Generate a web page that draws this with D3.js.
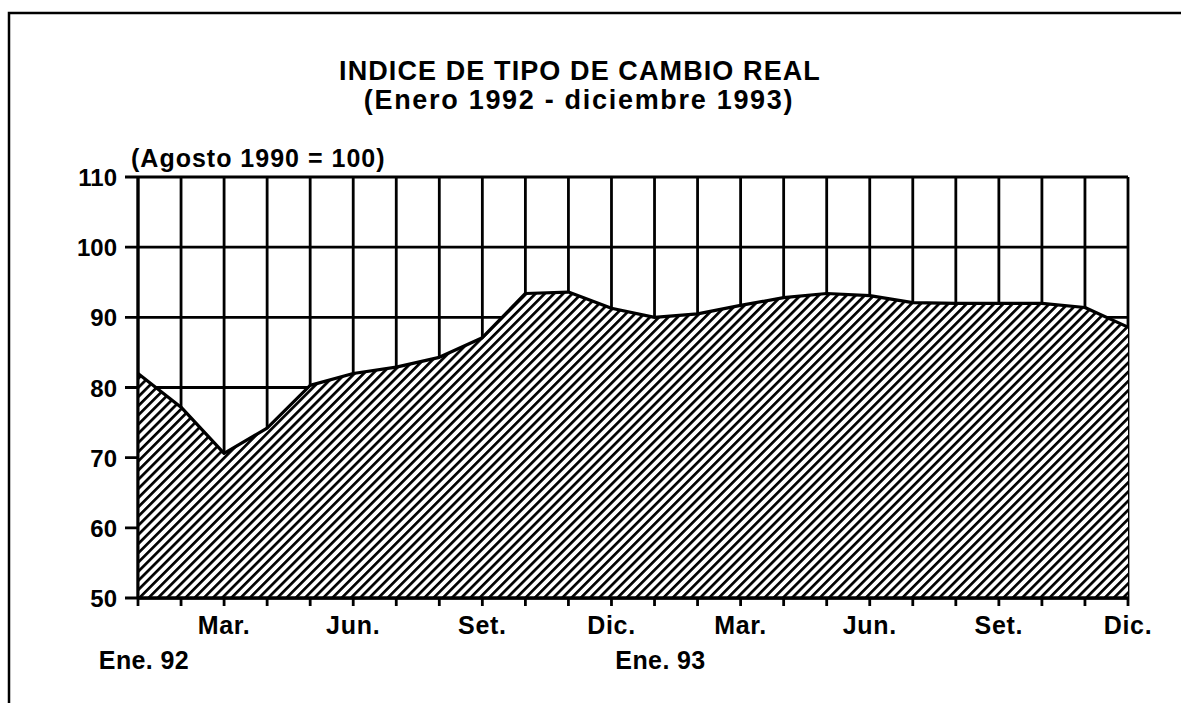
<!DOCTYPE html>
<html>
<head>
<meta charset="utf-8">
<script src="https://cdn.jsdelivr.net/npm/d3@7/dist/d3.min.js"></script>
<style>
  body { margin: 0; background: #fff; }
  svg { display: block; font-family: "Liberation Sans", Arial, Helvetica, sans-serif; font-weight: bold; }
</style>
</head>
<body>
<svg id="chart" width="1181" height="703"></svg>
<script>
// índice mensual, enero 1992 - diciembre 1993 (agosto 1990 = 100)
var months = d3.range(24);
var values = [82.0, 77.2, 70.6, 74.2, 80.3, 82.0, 82.9, 84.3, 87.1, 93.4, 93.6, 91.3,
              90.0, 90.5, 91.7, 92.8, 93.4, 93.1, 92.1, 92.0, 92.0, 92.0, 91.4, 88.6];
var monthLabels = {2: 'Mar.', 5: 'Jun.', 8: 'Set.', 11: 'Dic.', 14: 'Mar.', 17: 'Jun.', 20: 'Set.', 23: 'Dic.'};
var yearLabels = {0: 'Ene. 92', 12: 'Ene. 93'};
var yTicks = [50, 60, 70, 80, 90, 100, 110];

var svg = d3.select('#chart');

var x = d3.scaleLinear().domain([0, 23]).range([138, 1128]);
var y = d3.scaleLinear().domain([50, 110]).range([598, 177]);

// marco
svg.append('path')
    .attr('d', 'M9,703 V13 H1181')
    .attr('fill', 'none')
    .attr('stroke', '#000')
    .attr('stroke-width', 2.5);

// rayado
var defs = svg.append('defs');
var pat = defs.append('pattern')
    .attr('id', 'hatch')
    .attr('patternUnits', 'userSpaceOnUse')
    .attr('width', 6.5)
    .attr('height', 6.5)
    .attr('patternTransform', 'rotate(45)');
pat.append('rect').attr('width', 6.5).attr('height', 6.5).attr('fill', '#fff');
pat.append('line')
    .attr('x1', 0).attr('y1', 0).attr('x2', 0).attr('y2', 6.5)
    .attr('stroke', '#000').attr('stroke-width', 5.4);

// cuadrícula
svg.append('g').selectAll('line')
    .data(months)
    .enter().append('line')
        .attr('x1', function(d) { return x(d); })
        .attr('x2', function(d) { return x(d); })
        .attr('y1', y(110))
        .attr('y2', y(50))
        .attr('stroke', '#000')
        .attr('stroke-width', 2.8);

svg.append('g').selectAll('line')
    .data(yTicks)
    .enter().append('line')
        .attr('x1', 125)
        .attr('x2', x(23))
        .attr('y1', function(d) { return y(d); })
        .attr('y2', function(d) { return y(d); })
        .attr('stroke', '#000')
        .attr('stroke-width', 2.8);

// área
var area = d3.area()
    .x(function(d, i) { return x(i); })
    .y0(y(50))
    .y1(function(d) { return y(d); });

var line = d3.line()
    .x(function(d, i) { return x(i); })
    .y(function(d) { return y(d); });

svg.append('path')
    .datum(values)
    .attr('d', area)
    .attr('fill', 'url(#hatch)');

svg.append('path')
    .datum(values)
    .attr('d', line)
    .attr('fill', 'none')
    .attr('stroke', '#000')
    .attr('stroke-width', 3.2)
    .attr('stroke-linejoin', 'round');

// ejes
svg.append('line')
    .attr('x1', x(0)).attr('x2', x(23))
    .attr('y1', y(50)).attr('y2', y(50))
    .attr('stroke', '#000').attr('stroke-width', 3.5);
svg.append('line')
    .attr('x1', x(0)).attr('x2', x(0))
    .attr('y1', y(110)).attr('y2', y(50))
    .attr('stroke', '#000').attr('stroke-width', 3);

svg.append('g').selectAll('line')
    .data(months)
    .enter().append('line')
        .attr('x1', function(d) { return x(d); })
        .attr('x2', function(d) { return x(d); })
        .attr('y1', y(50))
        .attr('y2', y(50) + 8)
        .attr('stroke', '#000')
        .attr('stroke-width', 2.8);

svg.append('g').selectAll('text')
    .data(Object.keys(monthLabels))
    .enter().append('text')
        .attr('x', function(d) { return x(+d); })
        .attr('y', 634)
        .attr('text-anchor', 'middle')
        .attr('font-size', 25)
        .attr('letter-spacing', 0.7)
        .text(function(d) { return monthLabels[d]; });

svg.append('g').selectAll('text')
    .data(Object.keys(yearLabels))
    .enter().append('text')
        .attr('x', function(d) { return x(+d) + 6; })
        .attr('y', 669)
        .attr('text-anchor', 'middle')
        .attr('font-size', 25)
        .attr('letter-spacing', 0.4)
        .text(function(d) { return yearLabels[d]; });

svg.append('g').selectAll('text')
    .data(yTicks)
    .enter().append('text')
        .attr('x', 117)
        .attr('y', function(d) { return y(d) + 9; })
        .attr('text-anchor', 'end')
        .attr('font-size', 24)
        .text(function(d) { return d; });

svg.append('text')
    .attr('x', 131)
    .attr('y', 167)
    .attr('font-size', 25)
    .attr('letter-spacing', 1)
    .text('(Agosto 1990 = 100)');

// títulos
svg.append('text')
    .attr('x', 580)
    .attr('y', 80)
    .attr('text-anchor', 'middle')
    .attr('font-size', 27)
    .attr('letter-spacing', 1.1)
    .text('INDICE DE TIPO DE CAMBIO REAL');

svg.append('text')
    .attr('x', 579)
    .attr('y', 109)
    .attr('text-anchor', 'middle')
    .attr('font-size', 27)
    .attr('letter-spacing', 1.7)
    .text('(Enero 1992 - diciembre 1993)');
</script>
</body>
</html>
